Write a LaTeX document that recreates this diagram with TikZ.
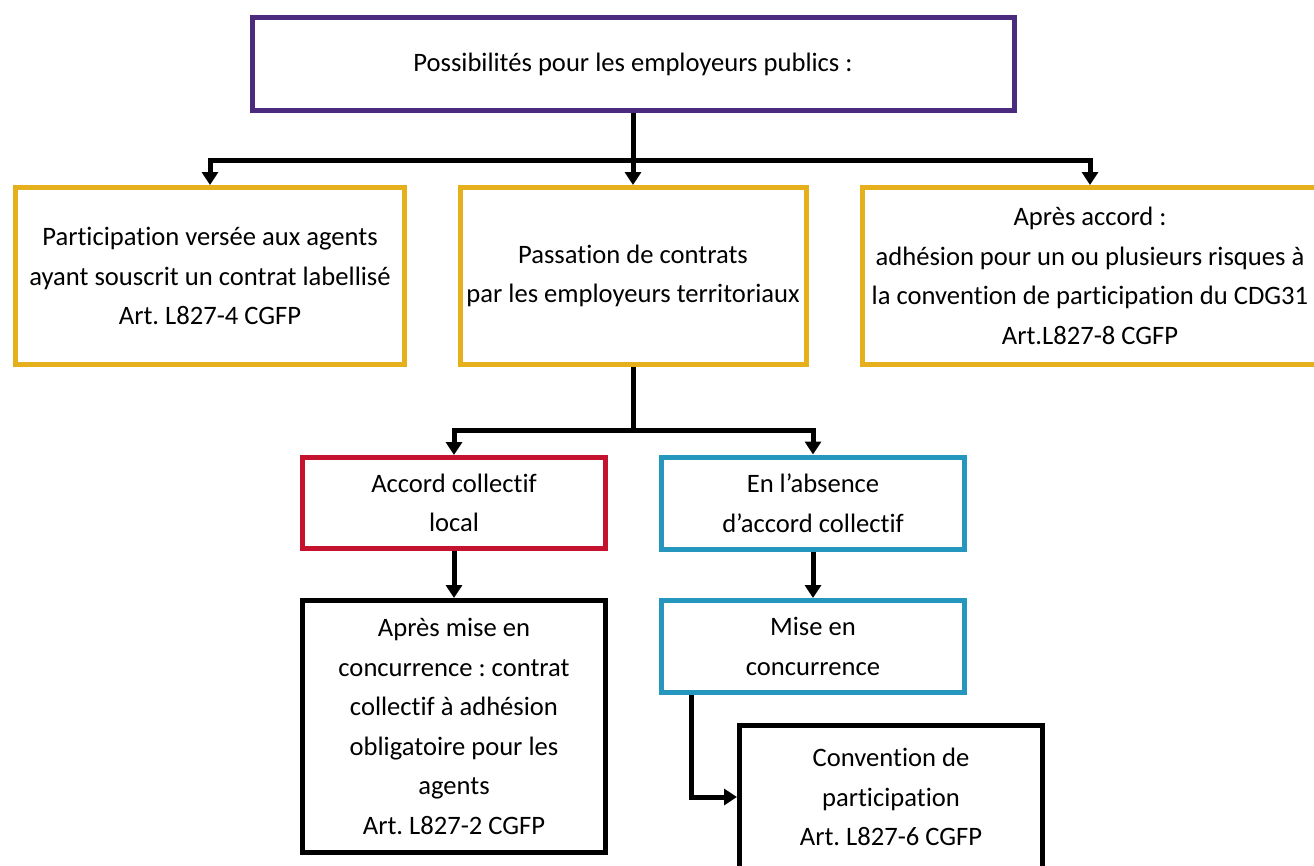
\documentclass[tikz,border=0pt]{standalone}
\usepackage{fontspec}
\setmainfont{Carlito}[Ligatures=NoCommon]
\frenchspacing
\usetikzlibrary{arrows.meta,positioning,calc}
\definecolor{violetbox}{HTML}{4B2B7E}
\definecolor{jaunebox}{HTML}{E5B01C}
\definecolor{rougebox}{HTML}{C5132F}
\definecolor{bleubox}{HTML}{2597BF}
\tikzset{
  box/.style={rectangle, draw, line width=5pt, align=center, fill=white,
              inner sep=0pt, font=\fontsize{26.6}{39.5}\selectfont},
  arrow/.style={-{Triangle[length=13pt,width=16pt]}, line width=5pt},
  line/.style={line width=5pt}
}
\begin{document}
\begin{tikzpicture}[x=1pt, y=-1pt,
  topb/.style={box, draw=violetbox, minimum width=762pt, minimum height=93pt},
  yb/.style={box, draw=jaunebox, minimum height=177pt},
  rb/.style={box, draw=rougebox, minimum width=303pt, minimum height=91pt},
  bb/.style={box, draw=bleubox, minimum width=303pt, minimum height=92pt},
  kb/.style={box, draw=black, minimum width=303pt}]
  \useasboundingbox (0,0) rectangle (1314,865);
  \node[topb] (top) at (633,64) {Possibilités pour les employeurs publics :};
  \node[yb, minimum width=389pt] (part) at (210,276)
    {Participation versée aux agents\\ayant souscrit un contrat labellisé\\Art. L827-4 CGFP};
  \node[yb, minimum width=346pt] (pass) at (633,276)
    {Passation de contrats\\par les employeurs territoriaux};
  \node[yb, minimum width=455pt] (cdg) at (1090,276)
    {Après accord :\\adhésion pour un ou plusieurs risques à\\la convention de participation du CDG31\\Art.L827-8 CGFP};
  \node[rb] (acc) at (454,503) {Accord collectif\\local};
  \node[bb] (abs) at (813,503) {En l’absence\\d’accord collectif};
  \node[kb, minimum height=252pt] (oblig) at (454,726.5)
    {Après mise en\\concurrence : contrat\\collectif à adhésion\\obligatoire pour les\\agents\\Art. L827-2 CGFP};
  \node[bb] (mec) at (813,646.5) {Mise en\\concurrence};
  \node[kb, minimum height=143pt] (conv) at (891,797)
    {Convention de\\participation\\Art. L827-6 CGFP};
  \draw[arrow] (top.south) -- (pass.north);
  \draw[arrow] (top.south) -- ++(0,47) -| (part.north);
  \draw[arrow] (top.south) -- ++(0,47) -| (cdg.north);
  \draw[line] (pass.south) -- ++(0,63) coordinate (j2);
  \draw[arrow] (j2) -| (acc.north);
  \draw[arrow] (j2) -| (abs.north);
  \draw[arrow] (acc) -- (oblig);
  \draw[arrow] (abs) -- (mec);
  \draw[arrow] ([xshift=32pt]mec.south west) |- (conv.west);
\end{tikzpicture}
\end{document}
